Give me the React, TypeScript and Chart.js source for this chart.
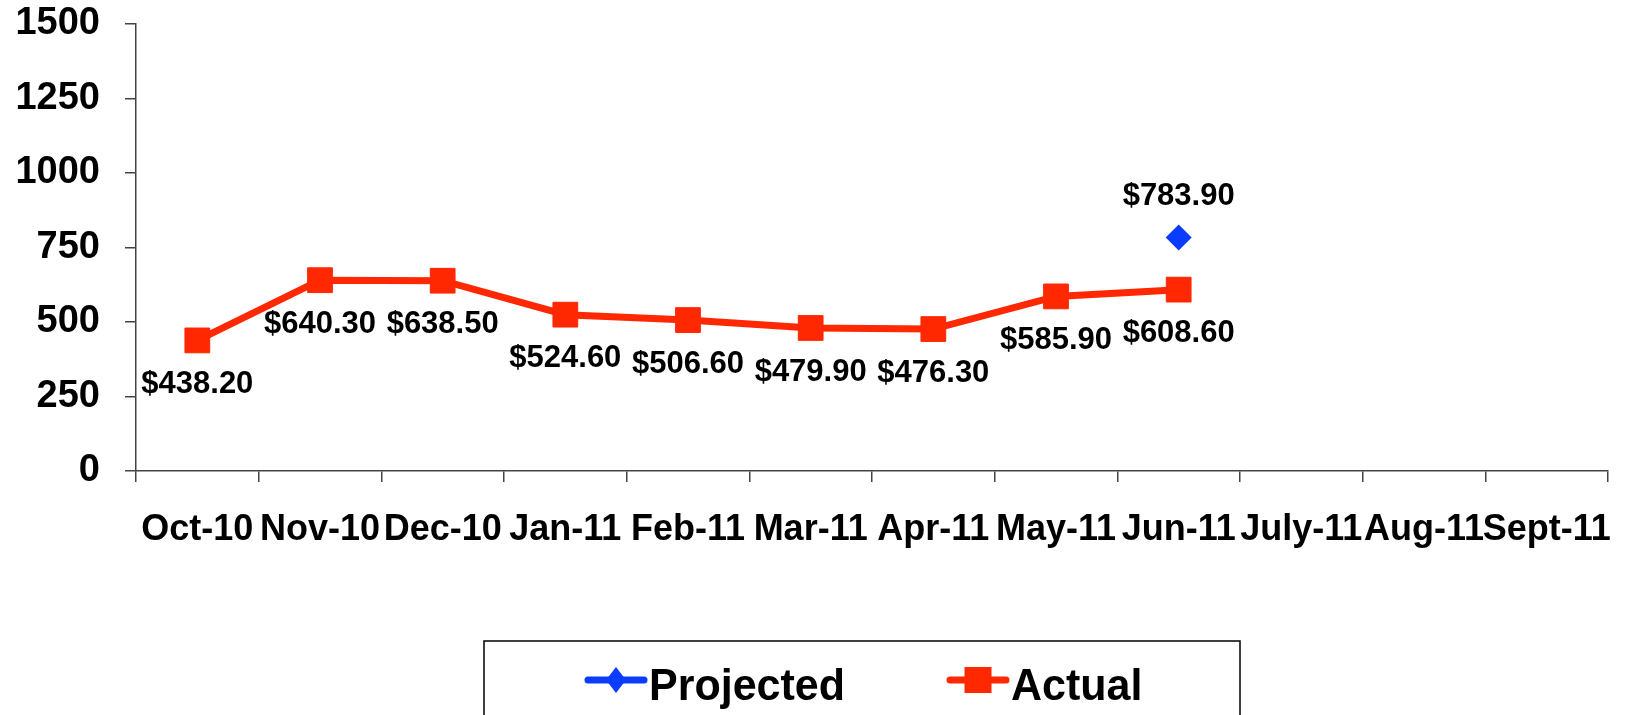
import React, { useEffect, useRef } from "react";
import { Chart, registerables } from "chart.js";

Chart.register(...registerables);

const categories = ["Oct-10", "Nov-10", "Dec-10", "Jan-11", "Feb-11", "Mar-11", "Apr-11", "May-11", "Jun-11", "July-11", "Aug-11", "Sept-11"];
const projectedValues: (number | null)[] = [null, null, null, null, null, null, null, null, 783.9, null, null, null];
const actualValues: (number | null)[] = [438.2, 640.3, 638.5, 524.6, 506.6, 479.9, 476.3, 585.9, 608.6, null, null, null];
const yTicks = [0, 250, 500, 750, 1000, 1250, 1500];

const FONT = "'Liberation Sans', Arial, Helvetica, sans-serif";
const BLUE = "#0A3CFF";
const RED = "#FF2800";

const labelOffsets = [-41, 44];

const dataLabelPlugin = {
  id: "dataLabels",
  afterDatasetsDraw(chart: any) {
    const ctx = chart.ctx;
    ctx.save();
    ctx.font = `bold 31px ${FONT}`;
    ctx.fillStyle = "#000";
    ctx.textAlign = "center";
    ctx.textBaseline = "middle";
    chart.data.datasets.forEach((ds: any, di: number) => {
      const meta = chart.getDatasetMeta(di);
      meta.data.forEach((pt: any, i: number) => {
        const v = ds.data[i];
        if (v === null || v === undefined) return;
        ctx.fillText(`$${v.toFixed(2)}`, pt.x, pt.y + labelOffsets[di]);
      });
    });
    ctx.restore();
  },
};

const legendPlugin = {
  id: "customLegend",
  afterDraw(chart: any) {
    const ctx = chart.ctx;
    ctx.save();
    ctx.strokeStyle = "#000";
    ctx.lineWidth = 1.5;
    ctx.strokeRect(484, 641, 756, 90);
    const items = [
      { x: 588, ds: chart.data.datasets[0] },
      { x: 950, ds: chart.data.datasets[1] },
    ];
    const cy = 680;
    items.forEach(({ x, ds }) => {
      ctx.strokeStyle = ds.borderColor;
      ctx.lineWidth = 7;
      ctx.lineCap = "round";
      ctx.beginPath();
      ctx.moveTo(x, cy);
      ctx.lineTo(x + 56, cy);
      ctx.stroke();
      ctx.fillStyle = ds.pointBackgroundColor;
      ctx.beginPath();
      const mx = x + 28;
      if (ds.pointStyle === "rectRot") {
        ctx.moveTo(mx - 10, cy);
        ctx.lineTo(mx, cy - 13);
        ctx.lineTo(mx + 10, cy);
        ctx.lineTo(mx, cy + 13);
        ctx.closePath();
      } else {
        ctx.rect(mx - 13.5, cy - 13, 27, 26);
      }
      ctx.fill();
      ctx.save();
      ctx.translate(x + 61, 700);
      ctx.scale(1, 1.05);
      ctx.fillStyle = "#000";
      ctx.font = `bold 43px ${FONT}`;
      ctx.textAlign = "left";
      ctx.textBaseline = "alphabetic";
      ctx.fillText(ds.label, 0, 0);
      ctx.restore();
    });
    ctx.restore();
  },
};

export default function App() {
  const ref = useRef<HTMLCanvasElement | null>(null);
  useEffect(() => {
    if (!ref.current) return;
    const chart = new Chart(ref.current, {
      type: "line",
      data: {
        labels: categories,
        datasets: [
          {
            label: "Projected",
            data: projectedValues,
            borderColor: BLUE,
            backgroundColor: BLUE,
            pointBackgroundColor: BLUE,
            pointBorderColor: BLUE,
            pointStyle: "rectRot",
            pointRadius: 13,
            pointBorderWidth: 0,
            showLine: false,
          } as any,
          {
            label: "Actual",
            data: actualValues,
            borderColor: RED,
            backgroundColor: RED,
            pointBackgroundColor: RED,
            pointBorderColor: RED,
            pointStyle: "rect",
            pointRadius: 17.5,
            pointBorderWidth: 1,
            borderWidth: 7,
            tension: 0,
          } as any,
        ],
      },
      options: {
        responsive: false,
        animation: false,
        events: [],
        layout: { padding: { left: 0, top: 24, right: 21, bottom: 0 } },
        plugins: {
          legend: { display: false },
          tooltip: { enabled: false },
          title: { display: false },
        },
        scales: {
          x: {
            offset: true,
            grid: { offset: true, drawOnChartArea: false, tickLength: 11, color: "#444", lineWidth: 1.5 },
            border: { color: "#444", width: 1.5 },
            ticks: {
              autoSkip: false,
              maxRotation: 0,
              minRotation: 0,
              padding: 26,
              color: "#000",
              font: { family: FONT, size: 36, weight: "bold" },
            },
            afterFit: (s: any) => {
              s.height = 244;
              s.paddingLeft = 0;
              s.paddingRight = 0;
            },
          },
          y: {
            min: 0,
            max: 1500,
            afterBuildTicks: (s: any) => {
              s.ticks = yTicks.map((v) => ({ value: v }));
            },
            grid: { drawOnChartArea: false, tickLength: 11, color: "#444", lineWidth: 1.5 },
            border: { color: "#444", width: 1.5 },
            ticks: {
              padding: 25,
              color: "#000",
              font: { family: FONT, size: 38, weight: "bold" },
              callback: (v: any) => String(v),
            },
            afterFit: (s: any) => {
              s.width = 136;
              s.paddingTop = 0;
              s.paddingBottom = 0;
            },
          },
        },
      },
      plugins: [dataLabelPlugin, legendPlugin],
    });
    return () => chart.destroy();
  }, []);
  return (
    <div style={{ position: "fixed", left: 0, top: 0, width: 1629, height: 715, background: "#fff" }}>
      <canvas ref={ref} width={1629} height={715} />
    </div>
  );
}
